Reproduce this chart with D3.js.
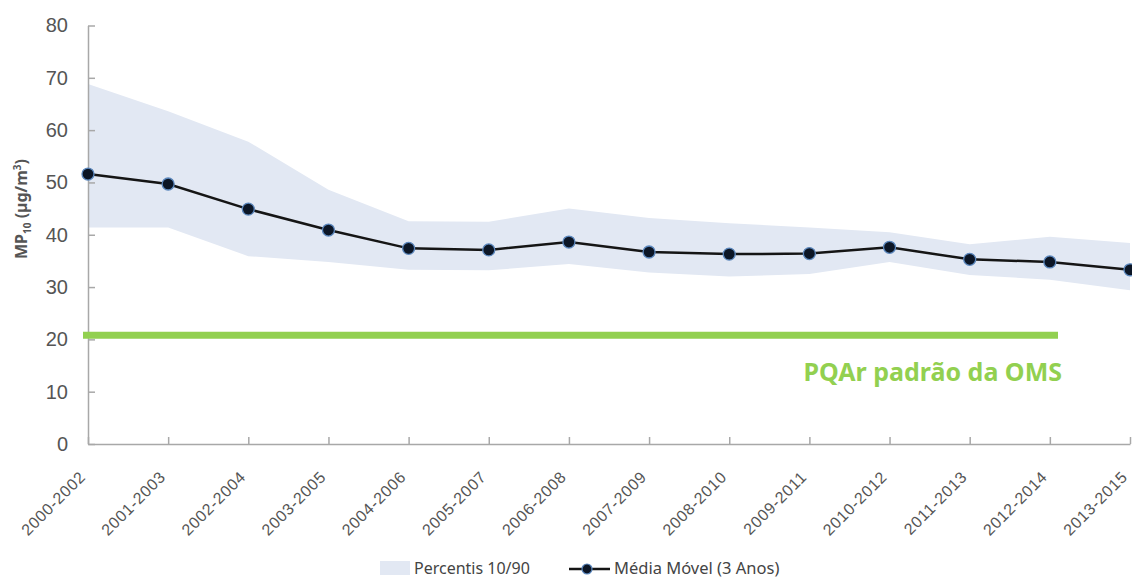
<!DOCTYPE html>
<html>
<head>
<meta charset="utf-8">
<script src="https://cdn.jsdelivr.net/npm/d3@7"></script>
<style>
  body { margin: 0; background: #fff; }
  svg { display: block; font-family: "Noto Sans", "Open Sans", sans-serif; }
</style>
</head>
<body>
<svg id="chart"></svg>
<script>
// periods (3-year windows)
var periods = ["2000-2002","2001-2003","2002-2004","2003-2005","2004-2006","2005-2007","2006-2008",
               "2007-2009","2008-2010","2009-2011","2010-2012","2011-2013","2012-2014","2013-2015"];
// moving average (3 years), MP10 ug/m3
var media = [51.6, 49.7, 44.9, 40.9, 37.4, 37.1, 38.6, 36.7, 36.3, 36.4, 37.6, 35.3, 34.8, 33.3];
// percentile 90 (upper edge of band)
var p90 = [68.8, 63.6, 57.8, 48.6, 42.6, 42.5, 45.0, 43.2, 42.2, 41.4, 40.5, 38.2, 39.6, 38.4];
// percentile 10 (lower edge of band)
var p10 = [41.4, 41.4, 35.9, 34.8, 33.3, 33.2, 34.4, 32.8, 32.0, 32.5, 34.8, 32.3, 31.4, 29.4];
var yTicks = [0, 10, 20, 30, 40, 50, 60, 70, 80];
var omsValue = 20.8;

var W = 1132, H = 579;
var mLeft = 88, mRight = 1130, mTop = 25.5, mBottom = 444;

var svg = d3.select("#chart").attr("width", W).attr("height", H);

var x = d3.scalePoint().domain(periods).range([mLeft, mRight]);
var y = d3.scaleLinear().domain([0, 80]).range([mBottom, mTop]);

var rows = periods.map(function(p, i) {
  return {p: p, m: media[i], lo: p10[i], hi: p90[i]};
});

// band
svg.append("path")
  .datum(rows)
  .attr("fill", "#e2e8f3")
  .attr("d", d3.area()
    .x(function(d) { return x(d.p); })
    .y0(function(d) { return y(d.lo); })
    .y1(function(d) { return y(d.hi); }));

// axes
var yAxis = svg.append("g")
  .attr("transform", "translate(" + mLeft + ",0)")
  .call(d3.axisLeft(y).tickValues(yTicks).tickSizeInner(-7).tickSizeOuter(0).tickPadding(20));
var xAxis = svg.append("g")
  .attr("transform", "translate(0," + mBottom + ")")
  .call(d3.axisBottom(x).tickSizeInner(-7).tickSizeOuter(0));

[yAxis, xAxis].forEach(function(g) {
  g.select(".domain").attr("stroke", "#a8a8a8").attr("stroke-width", 1.5);
  g.selectAll(".tick line").attr("stroke", "#a8a8a8").attr("stroke-width", 1.5);
  g.selectAll("text").attr("fill", "#555");
});
yAxis.selectAll("text").style("font-size", "20px");
xAxis.selectAll("text")
  .style("font-size", "16px")
  .style("letter-spacing", "0.7px")
  .attr("text-anchor", "end")
  .attr("x", 0).attr("y", 0)
  .attr("dy", "0.35em")
  .attr("transform", "translate(-6,30) rotate(-45)");

// WHO guideline
svg.append("line")
  .attr("x1", mLeft - 5).attr("x2", 1058)
  .attr("y1", y(omsValue)).attr("y2", y(omsValue))
  .attr("stroke", "#92d050").attr("stroke-width", 7);
svg.append("text")
  .attr("x", 1062).attr("y", 381)
  .attr("text-anchor", "end")
  .attr("fill", "#92d050")
  .style("font-size", "25px").style("font-weight", "bold")
  .text("PQAr padrão da OMS");

// moving average
svg.append("path")
  .datum(rows)
  .attr("fill", "none")
  .attr("stroke", "#151515")
  .attr("stroke-width", 2.5)
  .attr("d", d3.line()
    .x(function(d) { return x(d.p); })
    .y(function(d) { return y(d.m); }));

svg.selectAll("circle.pt")
  .data(rows)
  .enter()
  .append("circle")
  .attr("class", "pt")
  .attr("cx", function(d) { return x(d.p); })
  .attr("cy", function(d) { return y(d.m); })
  .attr("r", 6)
  .attr("fill", "#0c1626")
  .attr("stroke", "#5b87bd")
  .attr("stroke-width", 1.3);

// y label
var yl = svg.append("text")
  .attr("transform", "translate(27,209) rotate(-90)")
  .attr("text-anchor", "middle")
  .attr("fill", "#555")
  .style("font-size", "16px").style("font-weight", "bold");
yl.append("tspan").text("MP");
yl.append("tspan").attr("dy", 4).style("font-size", "10px").text("10");
yl.append("tspan").attr("dy", -4).text(" (µg/m");
yl.append("tspan").attr("dy", -6).style("font-size", "10px").text("3");
yl.append("tspan").attr("dy", 6).text(")");

// legend
var lg = svg.append("g");
lg.append("rect").attr("x", 380).attr("y", 561).attr("width", 30).attr("height", 14).attr("fill", "#e2e8f3");
lg.append("text").attr("x", 414).attr("y", 574).attr("fill", "#444")
  .style("font-size", "16px").text("Percentis 10/90");
lg.append("line").attr("x1", 569).attr("x2", 610).attr("y1", 569).attr("y2", 569)
  .attr("stroke", "#151515").attr("stroke-width", 2.5);
lg.append("circle").attr("cx", 587).attr("cy", 569).attr("r", 5)
  .attr("fill", "#0c1626").attr("stroke", "#5b87bd").attr("stroke-width", 1.2);
lg.append("text").attr("x", 614).attr("y", 574).attr("fill", "#444")
  .style("font-size", "16.5px").text("Média Móvel (3 Anos)");
</script>
</body>
</html>
